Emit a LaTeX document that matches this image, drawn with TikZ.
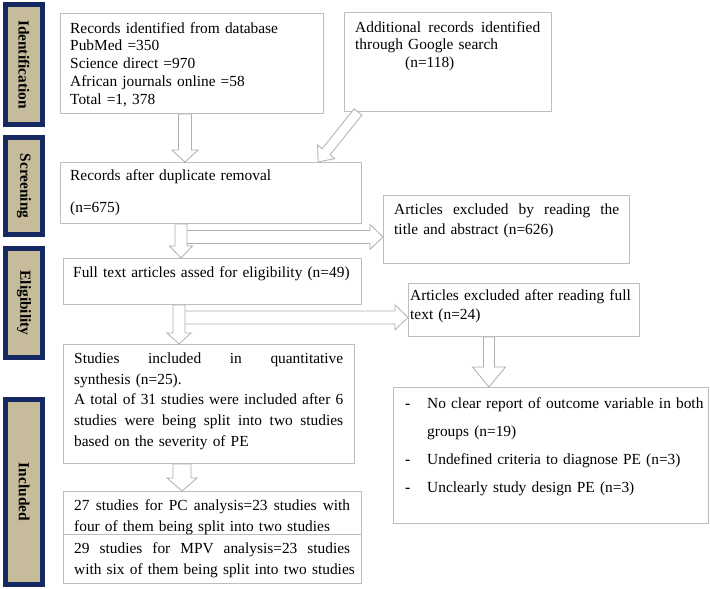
\documentclass[tikz,border=0pt]{standalone}
\usepackage{fontspec}
\setmainfont{Liberation Serif}
\usetikzlibrary{calc}
\definecolor{navy}{RGB}{22,40,98}
\definecolor{tanfill}{RGB}{198,188,156}
\definecolor{boxgray}{RGB}{190,190,190}
\definecolor{arrgray}{RGB}{175,175,175}
\newcommand\jline[2]{\leavevmode\hbox to #1pt{\spaceskip=0.25em plus 1fil\relax #2}}
\newcommand\dashitem{\makebox[22pt][l]{\textbf{-}}}
% hollow block arrow: #1 from, #2 to, #3 shaft half width, #4 head half width, #5 head length
\newcommand\blkarrow[5]{%
  \path let \p1=(#1), \p2=(#2) in \pgfextra{%
    \pgfmathsetmacro\tmpang{atan2(\y2-\y1,\x2-\x1)}%
    \pgfmathsetmacro\tmplen{veclen(\x2-\x1,\y2-\y1)}%
    \xdef\baang{\tmpang}\xdef\balen{\tmplen}};
  \draw[blkarr, shift={(#1)}, rotate=\baang]
    (0pt,-#3pt) -- ({\balen pt-#5pt},-#3pt) -- ({\balen pt-#5pt},-#4pt) -- (\balen pt,0pt)
    -- ({\balen pt-#5pt},#4pt) -- ({\balen pt-#5pt},#3pt) -- (0pt,#3pt) -- cycle;
}
\begin{document}
\begin{tikzpicture}[x=1pt,y=-1pt,
  box/.style={draw=boxgray, line width=0.9pt, fill=white, anchor=north west, inner sep=0pt},
  side/.style={draw=navy, fill=tanfill, line width=5.5pt, inner sep=0pt, minimum width=37pt},
  sidetxt/.style={rotate=-90, inner sep=0pt, font=\fontsize{15.4}{18}\bfseries\selectfont},
  txt/.style={anchor=base west, inner sep=0pt, text width=#1, align=left},
  lead/.style={font=\fontsize{15.4}{#1}\selectfont},
  blkarr/.style={draw=arrgray, line width=0.8pt, fill=white, line join=miter}]
\useasboundingbox (0,0) rectangle (710,589);
\fill[white] (0,0) rectangle (710,589);

% side labels
\node[side, minimum height=120pt] (sid) at (24,64.5) {};
\node[sidetxt] (sidt) at (sid.center) {Identification};
\node[side, minimum height=97pt] (sscr) at (24,186) {};
\node[sidetxt] (sscrt) at (sscr.center) {Screening};
\node[side, minimum height=109pt] (selg) at (24,303) {};
\node[sidetxt] (selgt) at (selg.center) {Eligibility};
\node[side, minimum height=185pt] (sinc) at (24,492) {};
\node[sidetxt] (sinct) at (sinc.center) {Included};

% boxes
\node[box, minimum width=263pt, minimum height=100pt] (rid) at (60,13) {};
\node[box, minimum width=207pt, minimum height=99pt] (add) at (344,12) {};
\node[box, minimum width=301pt, minimum height=61pt] (rdup) at (60,162) {};
\node[box, minimum width=246pt, minimum height=68pt] (atitle) at (383,195) {};
\node[box, minimum width=298pt, minimum height=46pt] (full) at (63,258) {};
\node[box, minimum width=231pt, minimum height=53pt] (afull) at (408,283) {};
\node[box, minimum width=291pt, minimum height=119pt] (stud) at (63,344) {};
\node[box, minimum width=298pt, minimum height=43pt] (pc) at (63,491) {};
\node[box, minimum width=298pt, minimum height=49pt] (mpv) at (63,534) {};
\node[box, minimum width=315pt, minimum height=136pt] (bul) at (393,387) {};

% texts
\node[txt=250pt, lead=17.8] (ridt) at ($(rid.north west)+(10,20)$)
  {Records identified from database\\ PubMed =350\\ Science direct =970\\ African journals online =58\\ Total =1, 378};
\node[txt=195pt, lead=17.6] (addt) at ($(add.north west)+(11,20)$)
  {\jline{185}{Additional records identified}\\ through Google search\\ \hspace*{50pt}(n=118)};
\node[txt=290pt, lead=18] (rdupt) at ($(rdup.north west)+(10,18)$)
  {Records after duplicate removal\\[14.5pt] (n=675)};
\node[txt=235pt, lead=20] (atitlet) at ($(atitle.north west)+(11,19)$)
  {\jline{225}{Articles excluded by reading the}\\ title and abstract (n=626)};
\node[txt=290pt, lead=18] (fullt) at ($(full.north west)+(10,19)$)
  {Full text articles assed for eligibility (n=49)};
\node[txt=228pt, lead=19] (afullt) at ($(afull.north west)+(2,17)$)
  {Articles excluded after reading full\\ text (n=24)};
\node[txt=280pt, lead=20.7] (studt) at ($(stud.north west)+(11,19.5)$)
  {\jline{269}{Studies included in quantitative}\\ synthesis (n=25).\\
   \jline{269}{A total of 31 studies were included after 6}\\
   \jline{269}{studies were being split into two studies}\\ based on the severity of PE};
\node[txt=285pt, lead=21] (pct) at ($(pc.north west)+(11,19)$)
  {\jline{276}{27 studies for PC analysis=23 studies with}\\ four of them being split into two studies};
\node[txt=285pt, lead=21] (mpvt) at ($(mpv.north west)+(11,19.5)$)
  {\jline{276}{29 studies for MPV analysis=23 studies}\\ with six of them being split into two studies};
\node[txt=300pt, lead=28] (bult) at ($(bul.north west)+(12,21)$)
  {\dashitem No clear report of outcome variable in both\\ \hspace*{22pt}groups (n=19)\\
   \dashitem Undefined criteria to diagnose PE (n=3)\\ \dashitem Unclearly study design PE (n=3)};

% arrow end points
\coordinate (a1s) at ($(rid.south west)+(125,0)$);
\coordinate (a1e) at (a1s |- rdup.north);
\coordinate (a2s) at ($(add.south west)+(14,0)$);
\coordinate (a2e) at ($(rdup.north west)+(258,0)$);
\coordinate (a3s) at ($(rdup.south west)+(121,0)$);
\coordinate (a3e) at (a3s |- full.north);
\coordinate (a4s) at ($(rdup.south west)+(121,13)$);
\coordinate (a4e) at (a4s -| atitle.west);
\coordinate (a5s) at ($(full.south west)+(116,0)$);
\coordinate (a5e) at (a5s |- stud.north);
\coordinate (a6s) at ($(full.south west)+(116,12.5)$);
\coordinate (a6e) at (a6s -| afull.west);
\coordinate (a7s) at ($(afull.south west)+(81,0)$);
\coordinate (a7e) at (a7s |- bul.north);
\coordinate (a8s) at ($(stud.south west)+(119,0)$);
\coordinate (a8e) at (a8s |- pc.north);

\blkarrow{a1s}{a1e}{6.5}{13}{12}
\blkarrow{a2s}{a2e}{5}{11}{13}
\blkarrow{a4s}{a4e}{6.5}{12.5}{13}
\blkarrow{a3s}{a3e}{6}{11.5}{12}
\blkarrow{a6s}{a6e}{6.5}{12.5}{13}
\blkarrow{a5s}{a5e}{6}{12}{11}
\blkarrow{a7s}{a7e}{5.5}{16.5}{20}
\blkarrow{a8s}{a8e}{9}{15}{13}
\end{tikzpicture}
\end{document}
